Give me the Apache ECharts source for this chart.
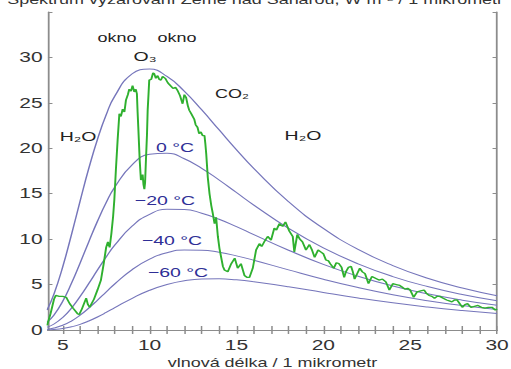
<!DOCTYPE html>
<html>
<head>
<meta charset="utf-8">
<script src="https://cdn.jsdelivr.net/npm/echarts@6/dist/echarts.min.js"></script>
<style>
  html, body { margin: 0; padding: 0; background: #fff; overflow: hidden; }
  /* the original picture is stretched horizontally, so the chart is drawn narrow and widened */
  #chart { width: 341px; height: 369px; transform: scaleX(1.4985); transform-origin: 0 0; }
</style>
</head>
<body>
<div id="chart"></div>
<script>
// vlnova delka (mikrometr) pro krivky cerneho telesa
var wl = [4.1, 4.5, 5, 5.5, 6, 6.5, 7, 7.5, 8, 9, 10, 11, 12, 13, 14, 15, 16, 18, 20, 22, 24, 26, 28, 30];
// krivky (nejvyssi bez popisku, pak 0, -20, -40, -60 °C)
var curveTop = [2.20, 3.98, 6.95, 10.47, 14.19, 17.78, 20.99, 23.67, 25.76, 28.20, 28.72, 27.91, 26.28, 24.23, 22.03, 19.84, 17.77, 14.12, 11.18, 8.87, 7.09, 5.70, 4.62, 3.77];
var curve0 = [0.85, 1.66, 3.16, 5.13, 7.37, 9.71, 11.97, 14.01, 15.74, 18.19, 19.34, 19.45, 18.85, 17.80, 16.51, 15.13, 13.75, 11.19, 9.03, 7.28, 5.88, 4.78, 3.90, 3.21];
var curveM20 = [0.31, 0.66, 1.38, 2.40, 3.68, 5.11, 6.60, 8.04, 9.35, 11.44, 12.73, 13.28, 13.27, 12.85, 12.19, 11.38, 10.50, 8.78, 7.22, 5.92, 4.85, 3.98, 3.28, 2.72];
var curveM40 = [0.09, 0.22, 0.52, 0.99, 1.63, 2.41, 3.28, 4.19, 5.08, 6.65, 7.80, 8.50, 8.81, 8.79, 8.55, 8.16, 7.68, 6.62, 5.59, 4.67, 3.88, 3.23, 2.69, 2.25];
var curveM60 = [0.02, 0.06, 0.16, 0.35, 0.62, 0.99, 1.43, 1.93, 2.46, 3.49, 4.37, 5.01, 5.42, 5.61, 5.63, 5.52, 5.31, 4.76, 4.13, 3.53, 2.99, 2.53, 2.14, 1.81];

// namerene spektrum (zelena)
var specX = [4.1, 4.3, 4.5, 4.6, 4.8, 5.0, 5.2, 5.4, 5.6, 5.85, 5.95, 6.1, 6.35, 6.45, 6.55, 6.8, 7.0, 7.2, 7.35, 7.5, 7.6, 7.7, 7.8, 7.9, 7.97, 8.06, 8.16, 8.26, 8.35, 8.45, 8.55, 8.64, 8.75, 8.83, 8.93, 9.02, 9.12, 9.21, 9.27, 9.31, 9.35, 9.43, 9.5, 9.6, 9.65, 9.7, 9.74, 9.79, 9.85, 9.89, 9.94, 9.98, 10.1, 10.2, 10.27, 10.36, 10.46, 10.55, 10.65, 10.75, 10.9, 11.05, 11.2, 11.35, 11.5, 11.6, 11.75, 11.9, 12.0, 12.1, 12.2, 12.28, 12.4, 12.57, 12.65, 12.76, 12.85, 12.95, 13.05, 13.16, 13.21, 13.26, 13.35, 13.45, 13.55, 13.64, 13.74, 13.83, 13.93, 14.02, 14.12, 14.22, 14.31, 14.5, 14.7, 14.9, 15.07, 15.26, 15.46, 15.6, 15.75, 15.94, 16.13, 16.32, 16.45, 16.6, 16.8, 16.99, 17.18, 17.3, 17.47, 17.66, 17.82, 18.04, 18.24, 18.33, 18.5, 18.65, 18.8, 19.0, 19.2, 19.35, 19.5, 19.7, 19.85, 20.0, 20.15, 20.3, 20.4, 20.6, 20.75, 20.9, 21.05, 21.2, 21.3, 21.45, 21.6, 21.7, 21.8, 21.95, 22.1, 22.25, 22.4, 22.6, 22.8, 23.0, 23.2, 23.4, 23.6, 23.8, 24.0, 24.2, 24.4, 24.55, 24.7, 24.85, 25.0, 25.2, 25.4, 25.6, 25.8, 25.95, 26.1, 26.25, 26.4, 26.55, 26.7, 26.9, 27.1, 27.25, 27.4, 27.55, 27.7, 27.85, 28.0, 28.15, 28.3, 28.5, 28.7, 28.9, 29.1, 29.3, 29.5, 29.7, 29.9, 30.0];
var specY = [0.5, 1.8, 3.4, 3.8, 3.7, 3.7, 3.6, 2.9, 2.4, 1.8, 1.7, 2.3, 3.5, 2.8, 2.5, 3.4, 4.4, 5.5, 7.2, 9.1, 9.7, 9.1, 10.6, 12.5, 14.3, 17.6, 20.9, 23.8, 23.5, 24.3, 24.0, 25.3, 25.9, 26.5, 26.3, 26.9, 26.2, 26.5, 26.0, 24.0, 22.3, 18.7, 16.5, 17.1, 16.0, 15.5, 16.2, 18.7, 21.5, 24.2, 26.0, 27.5, 27.6, 28.3, 28.2, 27.7, 28.0, 27.6, 27.5, 27.9, 27.7, 27.2, 26.9, 26.6, 26.7, 26.4, 25.8, 24.9, 25.9, 25.6, 24.7, 24.2, 23.8, 23.2, 22.6, 22.3, 21.6, 21.8, 21.4, 21.4, 20.5, 19.4, 16.8, 15.0, 13.7, 12.8, 11.7, 12.4, 10.3, 9.0, 8.0, 7.0, 6.6, 6.4, 7.3, 7.9, 6.8, 7.3, 6.0, 5.8, 5.8, 6.8, 8.8, 9.5, 9.2, 9.7, 10.3, 9.9, 11.2, 11.0, 11.7, 11.4, 11.9, 10.9, 10.3, 8.6, 10.5, 10.0, 9.7, 8.8, 9.4, 8.8, 8.0, 8.8, 8.6, 8.4, 7.7, 7.6, 7.3, 6.8, 7.4, 7.3, 6.9, 5.8, 6.4, 6.9, 7.0, 6.4, 5.6, 6.2, 6.8, 6.4, 6.2, 5.1, 5.9, 5.7, 5.5, 5.6, 5.3, 4.4, 5.1, 5.0, 4.9, 4.7, 4.5, 4.6, 4.4, 3.6, 4.2, 4.3, 4.4, 4.0, 3.8, 3.7, 3.5, 3.7, 3.7, 3.5, 3.3, 3.2, 3.1, 3.3, 3.3, 2.9, 2.5, 2.8, 2.9, 2.5, 2.6, 2.7, 2.5, 2.4, 2.5, 2.5, 2.2, 2.3];

// popisky a znacky os
var xTicks = [5, 10, 15, 20, 25, 30];
var xMinorTicks = [5, 6, 7, 8, 9, 10, 11, 12, 13, 14, 15, 16, 17, 18, 19, 20, 21, 22, 23, 24, 25, 26, 27, 28, 29, 30];
var yTicks = [0, 5, 10, 15, 20, 25, 30];

var font = 'Liberation Sans, Arial, Helvetica, sans-serif';
var axisGray = '#8c8c8c';
var planckColor = '#7676bb';
var tempColor = '#2e2e96';

function pairs(xs, ys) {
  var out = [];
  for (var i = 0; i < xs.length; i++) out.push([xs[i], ys[i]]);
  return out;
}

function planck(values) {
  return {
    type: 'line', data: pairs(wl, values), smooth: true, showSymbol: false,
    lineStyle: { color: planckColor, width: 1 }, silent: true
  };
}

function label(x, y, text, size, color) {
  return { type: 'text', x: x, y: y,
    style: { text: text, font: size + 'px ' + font, fill: color, align: 'center', verticalAlign: 'middle' } };
}

var chart = echarts.init(document.getElementById('chart'), null, { renderer: 'svg' });
chart.setOption({
  animation: false,
  backgroundColor: '#fff',
  grid: { left: 32, right: 9.3, top: 12, bottom: 39, outerBoundsMode: 'none' },
  xAxis: [{
    type: 'value', min: 4.15, max: 30, position: 'bottom',
    axisLine: { lineStyle: { color: axisGray, width: 1.2 } },
    axisTick: { inside: true, length: 4, customValues: xMinorTicks, lineStyle: { color: axisGray } },
    splitLine: { show: false },
    axisLabel: { customValues: xTicks, margin: 8, fontSize: 14, color: '#333', fontFamily: font },
    name: 'vlnová délka / 1 mikrometr', nameLocation: 'middle', nameGap: 26,
    nameTextStyle: { fontSize: 12, color: '#333', fontFamily: font }
  }, {
    // horni ramecek
    type: 'value', min: 4.15, max: 30, position: 'top',
    axisLine: { lineStyle: { color: axisGray, width: 1.2 } },
    axisTick: { inside: true, length: 4, customValues: xMinorTicks, lineStyle: { color: axisGray } },
    axisLabel: { show: false }, splitLine: { show: false }
  }],
  yAxis: [{
    type: 'value', min: 0, max: 35, interval: 5, position: 'left',
    axisLine: { show: true, lineStyle: { color: axisGray, width: 1.2 } },
    axisTick: { show: true, inside: true, length: 3, lineStyle: { color: axisGray } },
    splitLine: { show: false },
    axisLabel: {
      margin: 3.5, fontSize: 14, color: '#333', fontFamily: font,
      formatter: function (v) { return yTicks.indexOf(v) >= 0 ? String(v) : ''; }
    }
  }, {
    type: 'value', min: 0, max: 35, interval: 5, position: 'right',
    axisLine: { show: true, lineStyle: { color: axisGray, width: 1.2 } },
    axisTick: { show: true, inside: true, length: 3, lineStyle: { color: axisGray } },
    axisLabel: { show: false }, splitLine: { show: false }
  }],
  series: [
    planck(curveTop), planck(curve0), planck(curveM20), planck(curveM40), planck(curveM60),
    {
      type: 'line', data: pairs(specX, specY), showSymbol: false,
      lineStyle: { color: '#2fb02f', width: 1.3 }, silent: true
    }
  ],
  graphic: [
    // titul je v originale nahore oriznuty
    { type: 'text', left: 'center', top: -6,
      style: { text: 'Spektrum vyzařování Země nad Saharou, W m⁻² / 1 mikrometr', font: '12px ' + font, fill: '#333' } },
    label(78.1, 38, 'okno', 12, '#222'),
    label(118.1, 38, 'okno', 12, '#222'),
    label(96.8, 57, 'O₃', 13, '#222'),
    label(154.8, 94, 'CO₂', 12, '#222'),
    label(52.1, 137, 'H₂O', 13, '#222'),
    label(202.2, 136, 'H₂O', 13, '#222'),
    label(116.8, 148, '0 °C', 13, tempColor),
    label(110.1, 201, '−20 °C', 13, tempColor),
    label(114.8, 241, '−40 °C', 13, tempColor),
    label(118.8, 273, '−60 °C', 13, tempColor)
  ]
});
window.addEventListener('resize', function () { chart.resize(); });
</script>
</body>
</html>
